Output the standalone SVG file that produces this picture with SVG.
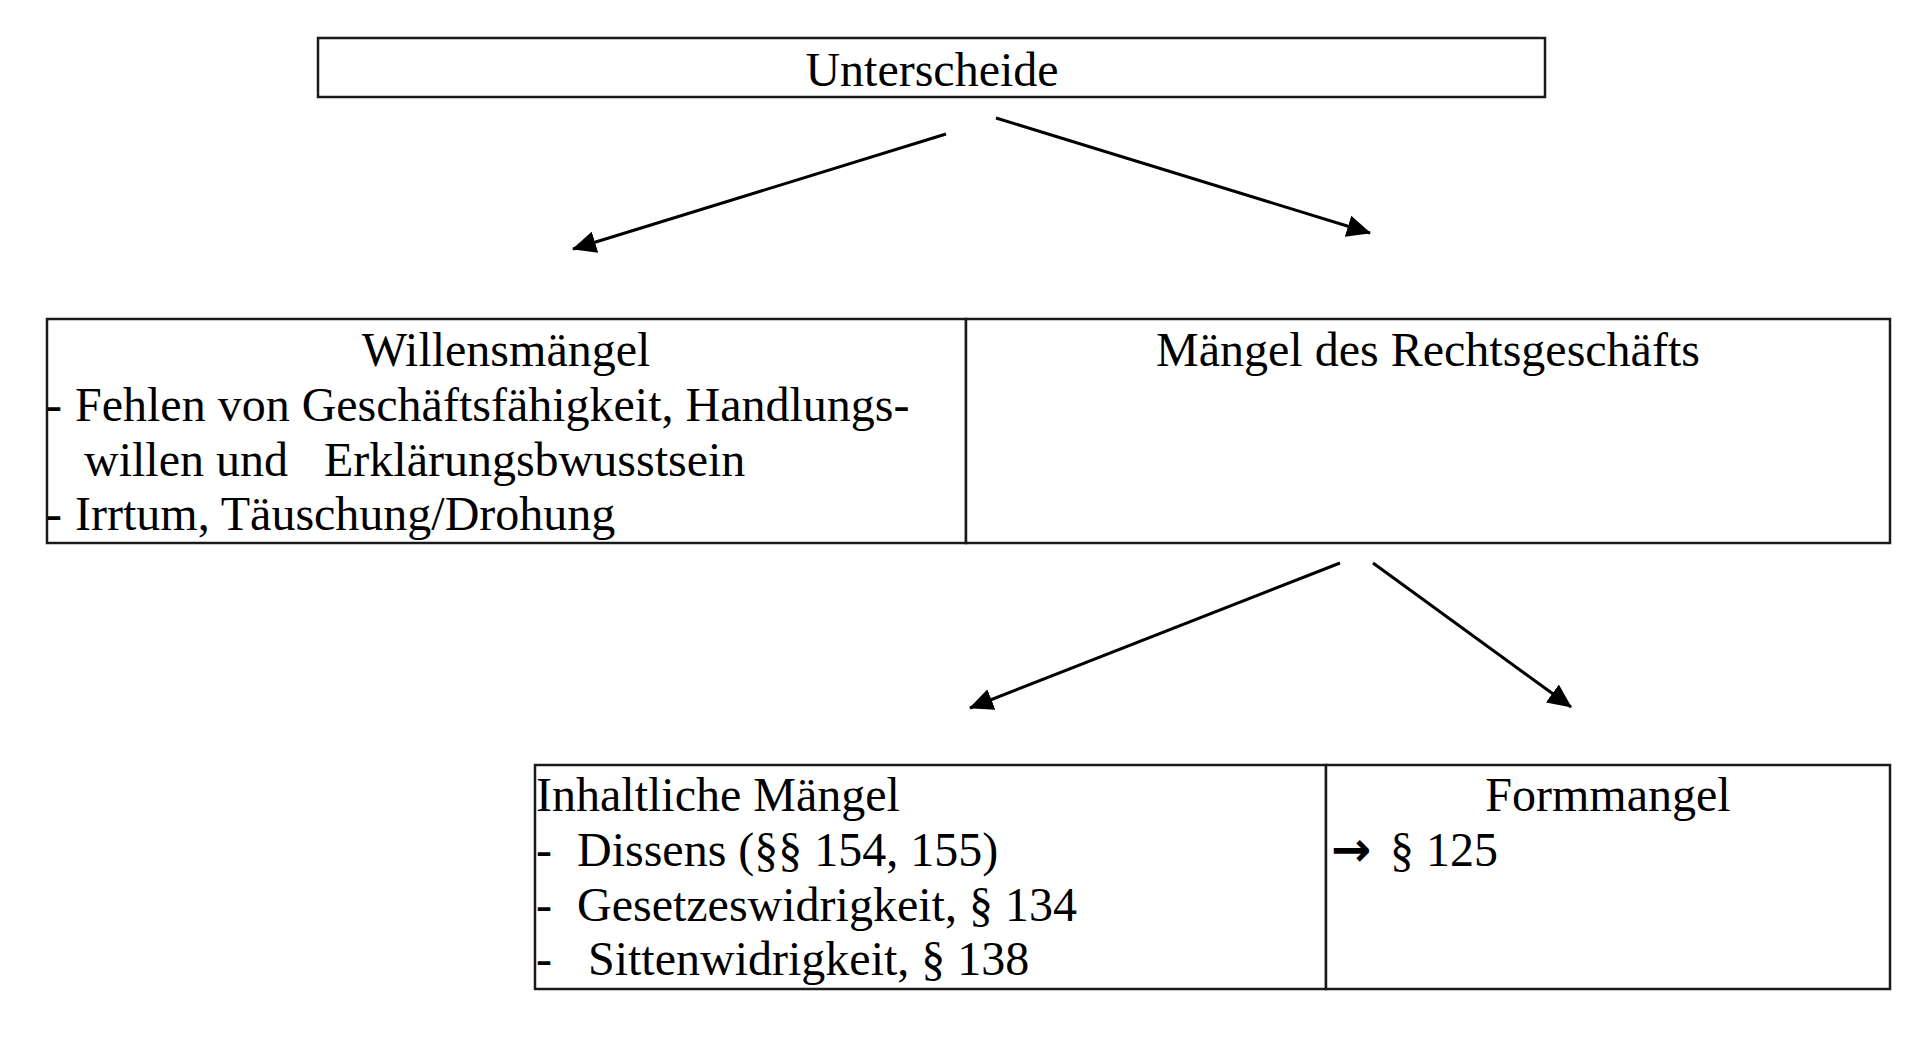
<svg xmlns="http://www.w3.org/2000/svg" width="1928" height="1044" viewBox="0 0 1928 1044">
<style>
.box{fill:#fff;stroke:#1a1a1a;stroke-width:2.5}
.t{font-family:"Liberation Serif","Times New Roman",serif;font-size:48px;fill:#000}
.c{text-anchor:middle}
.con{stroke:#000;stroke-width:3;fill:none;marker-end:url(#ah)}
</style>
<defs>
<marker id="ah" viewBox="0 0 24 22" refX="23" refY="11" markerWidth="24" markerHeight="22" markerUnits="userSpaceOnUse" orient="auto">
<path d="M0,0 L24,11 L0,22 z" fill="#000"/>
</marker>
</defs>
<rect width="1928" height="1044" fill="#fff"/>
<g id="unterscheide">
<rect class="box" x="318" y="38" width="1227" height="59"/>
<text class="t c" x="932" y="86">Unterscheide</text>
</g>
<g id="willensmaengel">
<rect class="box" x="47" y="319" width="919" height="224"/>
<text class="t c" x="506" y="366">Willensmängel</text>
<text class="t" y="421"><tspan x="46">-</tspan><tspan x="75">Fehlen von Geschäftsfähigkeit, Handlungs-</tspan></text>
<text class="t" y="476"><tspan x="84">willen und</tspan><tspan x="324">Erklärungsbwusstsein</tspan></text>
<text class="t" y="530"><tspan x="46">-</tspan><tspan x="75">Irrtum, Täuschung/Drohung</tspan></text>
</g>
<g id="maengel-rechtsgeschaeft">
<rect class="box" x="966" y="319" width="924" height="224"/>
<text class="t c" x="1428" y="366">Mängel des Rechtsgeschäfts</text>
</g>
<g id="inhaltliche-maengel">
<rect class="box" x="535" y="765" width="791" height="224"/>
<text class="t" x="536" y="811">Inhaltliche Mängel</text>
<text class="t" y="866"><tspan x="536">-</tspan><tspan x="577">Dissens (§§ 154, 155)</tspan></text>
<text class="t" y="921"><tspan x="536">-</tspan><tspan x="577">Gesetzeswidrigkeit, § 134</tspan></text>
<text class="t" y="975"><tspan x="536">-</tspan><tspan x="588">Sittenwidrigkeit, § 138</tspan></text>
</g>
<g id="formmangel">
<rect class="box" x="1326" y="765" width="564" height="224"/>
<text class="t c" x="1608" y="811">Formmangel</text>
<text class="t" y="866"><tspan x="1331" style="font-family:'DejaVu Sans',sans-serif;font-size:48px;font-weight:bold">→</tspan><tspan x="1390">§ 125</tspan></text>
</g>
<g id="connectors">
<line class="con" x1="946" y1="134" x2="573" y2="249"/>
<line class="con" x1="996" y1="118" x2="1370" y2="233"/>
<line class="con" x1="1340" y1="563" x2="970" y2="708"/>
<line class="con" x1="1373" y1="563" x2="1571" y2="707"/>
</g>
</svg>
